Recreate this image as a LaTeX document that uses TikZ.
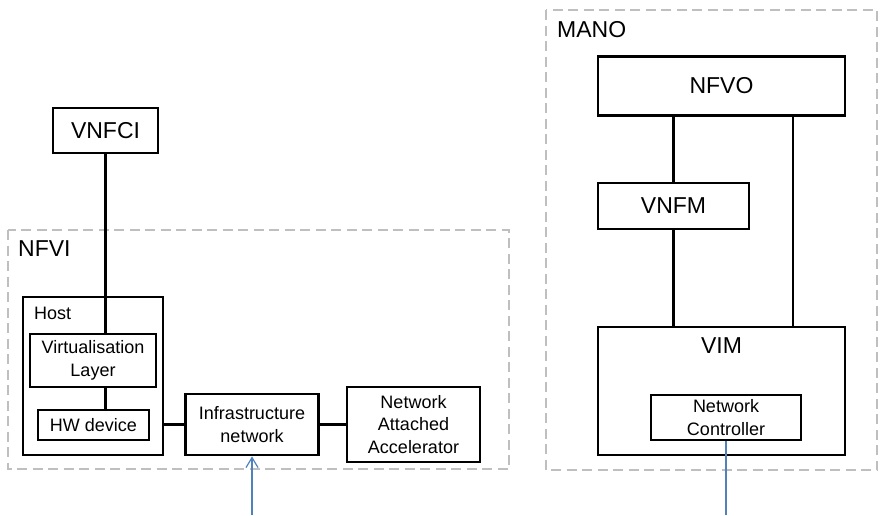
\documentclass[tikz,border=0pt]{standalone}
\usepackage{fontspec}
\setmainfont{Liberation Sans}
\usetikzlibrary{arrows.meta}
\begin{document}
\begin{tikzpicture}[x=1pt,y=-1pt,
    frame/.style={draw=black!25,line width=2.4pt,dash pattern=on 10pt off 5.5pt},
    bigbox/.style={draw,line width=2.8pt,inner sep=0pt,font=\fontsize{23}{27}\selectfont},
    smallbox/.style={draw,line width=2.8pt,inner sep=0pt,align=center,font=\fontsize{18}{22.5}\selectfont},
    link/.style={line width=2.3pt},
    feed/.style={draw={rgb,255:red,79;green,129;blue,189},line width=1.2pt}]
    \useasboundingbox (0,0) rectangle (880,515);
    % NFVI side
    \draw[frame] (8,230) rectangle (509,469);
    \node[anchor=west,inner sep=0pt,font=\fontsize{23}{27}\selectfont] (nfvilbl) at (18,249) {NFVI};
    \node[bigbox,minimum width=105pt,minimum height=45pt] (vnfci) at (105.5,130.5) {VNFCI};
    \node[smallbox,minimum width=140pt,minimum height=158pt] (host) at (93,376) {};
    \node[anchor=west,inner sep=0pt,font=\fontsize{18}{22.5}\selectfont] (hostlbl) at (34,313) {Host};
    \node[smallbox,minimum width=126pt,minimum height=53pt] (virt) at (93,360.5) {Virtualisation\\Layer};
    \node[smallbox,minimum width=111pt,minimum height=30pt] (hw) at (93.5,425) {HW device};
    \node[smallbox,minimum width=133pt,minimum height=61pt] (infra) at (252,424.5) {Infrastructure\\network};
    \node[smallbox,minimum width=133pt,minimum height=75pt] (naa) at (413.5,424.5) {Network\\Attached\\Accelerator};
    \draw[link] (vnfci.south) -- (vnfci.south |- virt.north);
    \draw[link] (vnfci.south |- virt.south) -- (vnfci.south |- hw.north);
    \draw[link] (host.east |- infra.west) -- (infra.west);
    \draw[link] (infra.east) -- (naa.west);
    \coordinate (infrain) at (infra.south |- 0,515);
    \draw[feed,-{Straight Barb[length=10pt,width=12pt]}] (infrain) -- (infra.south);
    % MANO side
    \draw[frame] (546,10) rectangle (877,470);
    \node[anchor=west,inner sep=0pt,font=\fontsize{23}{27}\selectfont] (manolbl) at (557,30) {MANO};
    \node[bigbox,minimum width=247pt,minimum height=59pt] (nfvo) at (721.5,86) {NFVO};
    \node[bigbox,minimum width=151pt,minimum height=46pt] (vnfm) at (673.5,206) {VNFM};
    \node[bigbox,minimum width=247pt,minimum height=128pt,
        label={[anchor=center,yshift=-20pt,font=\fontsize{23}{27}\selectfont]north:VIM}] (vim) at (721.5,391) {};
    \node[smallbox,minimum width=150pt,minimum height=45pt] (ctrl) at (726,417.5) {Network\\Controller};
    \draw[link] (vnfm.north) -- (vnfm.north |- nfvo.south);
    \draw[link] (vnfm.south) -- (vnfm.south |- vim.north);
    \draw[link] (nfvo.south -| 793,0) -- (vim.north -| 793,0);
    \coordinate (ctrlin) at (ctrl.south |- 0,515);
    \draw[feed] (ctrlin) -- (ctrl.south);
\end{tikzpicture}
\end{document}
